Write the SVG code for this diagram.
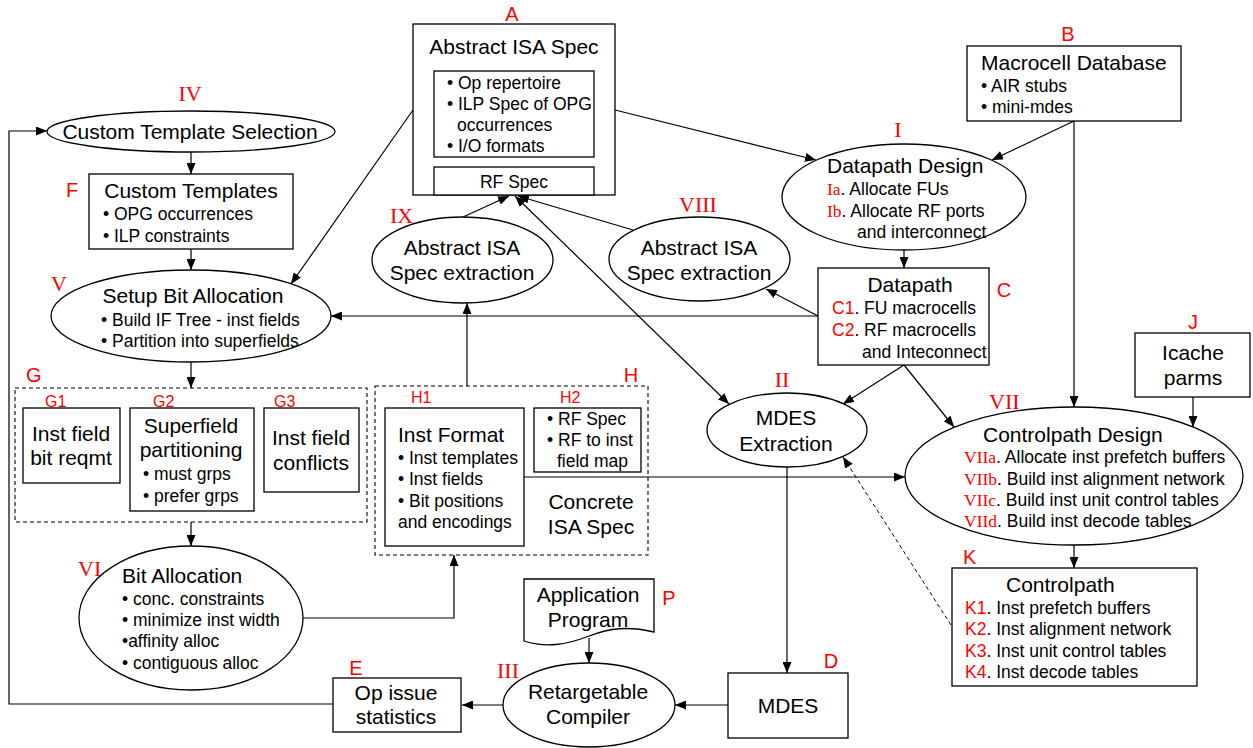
<svg xmlns="http://www.w3.org/2000/svg" width="1253" height="748" viewBox="0 0 1253 748">
<style>
text{font-family:"Liberation Sans",Arial,sans-serif;fill:#000}
.t{font-size:21px}
.b{font-size:17.5px}
.m{text-anchor:middle}
.lbl{fill:#f00;font-size:20px}
.sl{fill:#f00;font-size:16px}
.rn{fill:#f00;font-family:"Liberation Serif","Times New Roman",serif;font-size:22px}
.rs{fill:#f00;font-family:"Liberation Serif","Times New Roman",serif}
.red{fill:#f00}
.box{fill:#fff;stroke:#000;stroke-width:1.3}
.grp{fill:none;stroke:#000;stroke-width:1.1;stroke-dasharray:4,3}
.c{fill:none;stroke:#000;stroke-width:1.2;marker-end:url(#ah)}
.cd{fill:none;stroke:#000;stroke-width:1;stroke-dasharray:4,3;marker-end:url(#ah)}
</style>
<defs>
<marker id="ah" markerUnits="userSpaceOnUse" markerWidth="11" markerHeight="9" refX="11" refY="4.5" orient="auto-start-reverse">
<path d="M0,0 L11,4.5 L0,9 z" fill="#000"/>
</marker>
</defs>
<rect width="1253" height="748" fill="#fff"/>
<g id="connectors">
<line class="c" x1="413" y1="110" x2="291" y2="284"/>
<line class="c" x1="615" y1="110" x2="816" y2="160"/>
<line class="c" x1="1074" y1="121" x2="992" y2="160"/>
<line class="c" x1="1074" y1="121" x2="1074" y2="407"/>
<line class="c" x1="904" y1="250" x2="904" y2="268"/>
<line class="c" x1="191" y1="152" x2="191" y2="174"/>
<line class="c" x1="191" y1="249" x2="191" y2="270"/>
<line class="c" x1="818" y1="316" x2="331" y2="316"/>
<line class="c" x1="818" y1="316" x2="766" y2="289"/>
<line class="c" x1="463" y1="217" x2="509" y2="196"/>
<line class="c" x1="633" y1="230" x2="518" y2="196"/>
<line class="c" x1="515" y1="196" x2="729" y2="404" style="marker-start:url(#ah)"/>
<line class="c" x1="467" y1="386" x2="467" y2="303"/>
<line class="c" x1="191" y1="362" x2="191" y2="388"/>
<line class="c" x1="191" y1="522" x2="191" y2="546"/>
<polyline class="c" points="303,618 454,618 454,555"/>
<line class="c" x1="524" y1="477" x2="905" y2="477"/>
<line class="c" x1="904" y1="365" x2="843" y2="404"/>
<line class="c" x1="904" y1="365" x2="954" y2="427"/>
<line class="c" x1="787" y1="467" x2="787" y2="673"/>
<line class="c" x1="1193" y1="397" x2="1193" y2="427"/>
<line class="c" x1="1074" y1="545" x2="1074" y2="568"/>
<line class="cd" x1="951" y1="625" x2="843" y2="457"/>
<line class="c" x1="728" y1="705" x2="675" y2="705"/>
<line class="c" x1="589" y1="638" x2="589" y2="663"/>
<line class="c" x1="503" y1="705" x2="462" y2="705"/>
<polyline class="c" points="333,704 9,704 9,131 47,131"/>
</g>
<g id="A">
<text class="lbl m" x="512" y="21">A</text>
<rect class="box" x="413" y="24" width="202" height="171"/>
<text class="t m" x="514" y="54">Abstract ISA Spec</text>
<rect class="box" x="434" y="71" width="160" height="86"/>
<text class="b" x="447" y="89">• Op repertoire</text>
<text class="b" x="447" y="110">• ILP Spec of OPG</text>
<text class="b" x="457" y="131">occurrences</text>
<text class="b" x="447" y="152">• I/O formats</text>
<rect class="box" x="434" y="167" width="160" height="28"/>
<text class="b m" x="514" y="188">RF Spec</text>
</g>
<g id="B">
<text class="lbl m" x="1068" y="41">B</text>
<rect class="box" x="967" y="46" width="214" height="75"/>
<text class="t" x="981" y="70">Macrocell Database</text>
<text class="b" x="981" y="92">• AIR stubs</text>
<text class="b" x="981" y="113">• mini-mdes</text>
</g>
<g id="I">
<text class="rn m" x="898" y="137">I</text>
<ellipse class="box" cx="904" cy="197" rx="122" ry="53"/>
<text class="t" x="827" y="173">Datapath Design</text>
<text class="b" x="827" y="195"><tspan class="rs">Ia</tspan>. Allocate FUs</text>
<text class="b" x="827" y="217"><tspan class="rs">Ib</tspan>. Allocate RF ports</text>
<text class="b" x="857" y="238">and interconnect</text>
</g>
<g id="IV">
<text class="rn m" x="190" y="101">IV</text>
<ellipse class="box" cx="191" cy="131.5" rx="144" ry="20.5"/>
<text class="t m" x="190" y="139">Custom Template Selection</text>
</g>
<g id="F">
<text class="lbl m" x="72" y="197">F</text>
<rect class="box" x="89" y="174" width="204" height="75"/>
<text class="t m" x="191" y="198">Custom Templates</text>
<text class="b" x="103" y="220">• OPG occurrences</text>
<text class="b" x="103" y="242">• ILP constraints</text>
</g>
<g id="V">
<text class="rn" x="51" y="291">V</text>
<ellipse class="box" cx="191" cy="316" rx="140" ry="46"/>
<text class="t m" x="193" y="303">Setup Bit Allocation</text>
<text class="b" x="101" y="326">• Build IF Tree - inst fields</text>
<text class="b" x="101" y="347">• Partition into superfields</text>
</g>
<g id="IX">
<text class="rn" x="390" y="223">IX</text>
<ellipse class="box" cx="462.5" cy="260" rx="90.5" ry="43"/>
<text class="t m" x="462" y="255">Abstract ISA</text>
<text class="t m" x="462" y="280">Spec extraction</text>
</g>
<g id="VIII">
<text class="rn m" x="698" y="212">VIII</text>
<ellipse class="box" cx="699.5" cy="259" rx="90.5" ry="42"/>
<text class="t m" x="699" y="255">Abstract ISA</text>
<text class="t m" x="699" y="280">Spec extraction</text>
</g>
<g id="C">
<text class="lbl m" x="1004" y="297">C</text>
<rect class="box" x="818" y="268" width="171" height="97"/>
<text class="t m" x="910" y="292">Datapath</text>
<text class="b" x="832" y="314"><tspan class="red">C1</tspan>. FU macrocells</text>
<text class="b" x="832" y="336"><tspan class="red">C2</tspan>. RF macrocells</text>
<text class="b" x="862" y="358">and Inteconnect</text>
</g>
<g id="J">
<text class="lbl m" x="1193" y="329">J</text>
<rect class="box" x="1135" y="333" width="115" height="64"/>
<text class="t m" x="1193" y="360">Icache</text>
<text class="t m" x="1193" y="385">parms</text>
</g>
<g id="G">
<text class="lbl" x="26" y="382">G</text>
<rect class="grp" x="15" y="388" width="352" height="134"/>
<text class="sl" x="45" y="407">G1</text>
<rect class="box" x="23" y="408" width="97" height="75"/>
<text class="t m" x="71" y="441">Inst field</text>
<text class="t m" x="71" y="465">bit reqmt</text>
<text class="sl" x="153" y="407">G2</text>
<rect class="box" x="130" y="408" width="124" height="103"/>
<text class="t m" x="191" y="433">Superfield</text>
<text class="t m" x="191" y="457">partitioning</text>
<text class="b" x="143" y="480">• must grps</text>
<text class="b" x="143" y="502">• prefer grps</text>
<text class="sl" x="274" y="407">G3</text>
<rect class="box" x="264" y="408" width="95" height="84"/>
<text class="t m" x="311" y="445">Inst field</text>
<text class="t m" x="311" y="470">conflicts</text>
</g>
<g id="H">
<text class="lbl m" x="631" y="382">H</text>
<rect class="grp" x="375" y="386" width="273" height="169"/>
<text class="sl" x="411" y="403">H1</text>
<rect class="box" x="385" y="408" width="139" height="138"/>
<text class="t" x="398" y="442">Inst Format</text>
<text class="b" x="398" y="464">• Inst templates</text>
<text class="b" x="398" y="485">• Inst fields</text>
<text class="b" x="398" y="507">• Bit positions</text>
<text class="b" x="398" y="528">and encodings</text>
<text class="sl" x="560" y="403">H2</text>
<rect class="box" x="534" y="408" width="107" height="64"/>
<text class="b" x="547" y="425">• RF Spec</text>
<text class="b" x="547" y="446">• RF to inst</text>
<text class="b" x="557" y="467">field map</text>
<text class="t m" x="591" y="509">Concrete</text>
<text class="t m" x="591" y="534">ISA Spec</text>
</g>
<g id="II">
<text class="rn m" x="782" y="387">II</text>
<ellipse class="box" cx="787" cy="430" rx="80" ry="37"/>
<text class="t m" x="786" y="425">MDES</text>
<text class="t m" x="786" y="451">Extraction</text>
</g>
<g id="VII">
<text class="rn" x="989" y="409">VII</text>
<ellipse class="box" cx="1074" cy="476" rx="169" ry="69"/>
<text class="t" x="983" y="442">Controlpath Design</text>
<text class="b" x="964" y="463"><tspan class="rs">VIIa</tspan>. Allocate inst prefetch buffers</text>
<text class="b" x="964" y="485"><tspan class="rs">VIIb</tspan>. Build inst alignment network</text>
<text class="b" x="964" y="506"><tspan class="rs">VIIc</tspan>. Build inst unit control tables</text>
<text class="b" x="964" y="527"><tspan class="rs">VIId</tspan>. Build inst decode tables</text>
</g>
<g id="K">
<text class="lbl" x="963" y="564">K</text>
<rect class="box" x="952" y="568" width="245" height="118"/>
<text class="t" x="1006" y="592">Controlpath</text>
<text class="b" x="965" y="614"><tspan class="red">K1</tspan>. Inst prefetch buffers</text>
<text class="b" x="965" y="635"><tspan class="red">K2</tspan>. Inst alignment network</text>
<text class="b" x="965" y="657"><tspan class="red">K3</tspan>. Inst unit control tables</text>
<text class="b" x="965" y="678"><tspan class="red">K4</tspan>. Inst decode tables</text>
</g>
<g id="VI">
<text class="rn" x="78" y="576">VI</text>
<ellipse class="box" cx="191" cy="618" rx="112" ry="72"/>
<text class="t" x="122" y="583">Bit Allocation</text>
<text class="b" x="122" y="605">• conc. constraints</text>
<text class="b" x="122" y="626">• minimize inst width</text>
<text class="b" x="122" y="647">•affinity alloc</text>
<text class="b" x="122" y="669">• contiguous alloc</text>
</g>
<g id="P">
<text class="lbl m" x="669" y="605">P</text>
<path class="box" d="M524,579 H654 V632 C628,626 610,628 589,636 C566,645 546,648 524,641 Z"/>
<text class="t m" x="588" y="602">Application</text>
<text class="t m" x="588" y="627">Program</text>
</g>
<g id="III">
<text class="rn" x="497" y="678">III</text>
<ellipse class="box" cx="589" cy="705" rx="86" ry="42"/>
<text class="t m" x="588" y="699">Retargetable</text>
<text class="t m" x="588" y="724">Compiler</text>
</g>
<g id="D">
<text class="lbl m" x="831" y="668">D</text>
<rect class="box" x="728" y="673" width="120" height="65"/>
<text class="t m" x="788" y="713">MDES</text>
</g>
<g id="E">
<text class="lbl m" x="356" y="675">E</text>
<rect class="box" x="333" y="678" width="128" height="54"/>
<text class="t m" x="396" y="700">Op issue</text>
<text class="t m" x="396" y="724">statistics</text>
</g>
</svg>
